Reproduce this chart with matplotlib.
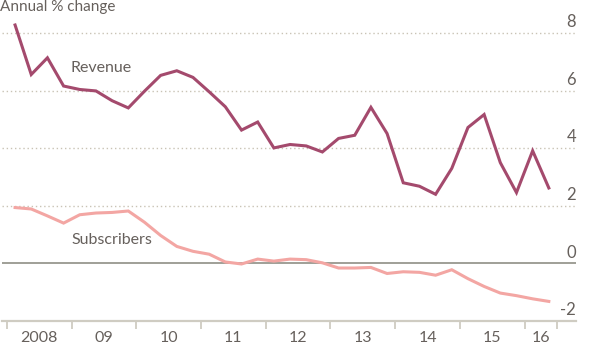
"""Revenue and subscriber growth, annual % change."""

import matplotlib

matplotlib.use("Agg")

import matplotlib.pyplot as plt
import matplotlib.transforms as mtransforms
import numpy as np

plt.rcParams["font.family"] = ["Lato", "DejaVu Sans"]

# quarterly data, 2008 Q1 .. 2016 Q2
REVENUE = [
    8.28, 6.56, 7.14, 6.16, 6.04, 5.99, 5.65, 5.40,
    5.98, 6.53, 6.69, 6.46, 5.96, 5.44, 4.63, 4.91,
    4.01, 4.13, 4.08, 3.87, 4.34, 4.45, 5.42, 4.51,
    2.80, 2.68, 2.40, 3.30, 4.72, 5.17, 3.50, 2.46,
    3.91, 2.62,
]
SUBSCRIBERS = [
    1.94, 1.89, 1.65, 1.40, 1.69, 1.75, 1.77, 1.82,
    1.43, 0.97, 0.59, 0.42, 0.32, 0.05, -0.02, 0.15,
    0.08, 0.15, 0.13, 0.02, -0.16, -0.16, -0.14, -0.35,
    -0.29, -0.31, -0.41, -0.22, -0.53, -0.80, -1.03, -1.12,
    -1.23, -1.32,
]
FIRST_YEAR = 2008
YEAR_TICKS = [2008, 2009, 2010, 2011, 2012, 2013, 2014, 2015, 2016, 2016.5]
YEAR_LABELS = ["2008", "09", "10", "11", "12", "13", "14", "15", "16"]
Y_TICKS = [-2, 0, 2, 4, 6, 8]

TEXT = "#66605c"
GRID = "#c9c3b5"
AXIS = "#cfccc2"


def main() -> None:
    quarters = FIRST_YEAR + (np.arange(len(REVENUE)) + 0.5) / 4

    fig = plt.figure(figsize=(6.0, 3.5), dpi=100)
    ax = fig.add_axes([2 / 600, 1 - 321 / 350, 574 / 600, (321 - 4.25) / 350])

    ax.set_xlim(2007.923, 2016.795)
    ax.set_ylim(-2, 9)

    trans = mtransforms.blended_transform_factory(ax.transAxes, ax.transData)
    for y in Y_TICKS:
        if y == 0:
            ax.axhline(0, color="#8f8f85", linewidth=1.2, zorder=1)
        elif y > -2:
            ax.axhline(y, color=GRID, linewidth=1.0, linestyle=(0, (1, 2)), zorder=1)
        ax.text(1.0, y + 0.1, f"{y}", transform=trans, ha="right", va="bottom",
                fontsize=12, color=TEXT)

    ax.plot(quarters, SUBSCRIBERS, color="#f3a6a3", linewidth=2.2, zorder=3,
            solid_joinstyle="miter")
    ax.plot(quarters, REVENUE, color="#a44a6d", linewidth=2.2, zorder=4,
            solid_joinstyle="miter")

    ax.text(2009.46, 6.78, "Revenue", ha="center", va="center", fontsize=11.5, color=TEXT)
    ax.text(2009.615, 0.80, "Subscribers", ha="center", va="center", fontsize=11.5, color=TEXT)

    for side in ["left", "right", "top"]:
        ax.spines[side].set_visible(False)
    ax.spines["bottom"].set_color(AXIS)
    ax.spines["bottom"].set_linewidth(1.6)

    ax.set_yticks([])
    ax.set_xticks(YEAR_TICKS)
    ax.set_xticklabels([])
    ax.tick_params(axis="x", which="major", length=6, width=1.3, color=AXIS)
    mids = [(a + b) / 2 for a, b in zip(YEAR_TICKS[:-1], YEAR_TICKS[1:])]
    ax.set_xticks(mids, minor=True)
    ax.set_xticklabels(YEAR_LABELS, minor=True, fontsize=11.5, color=TEXT)
    ax.tick_params(axis="x", which="minor", length=0, pad=7)

    fig.text(0.0, 1.0, "Annual % change", ha="left", va="top",
             fontsize=11, color=TEXT)

    fig.savefig("out.png", dpi=100)
    plt.close(fig)


if __name__ == "__main__":
    main()
